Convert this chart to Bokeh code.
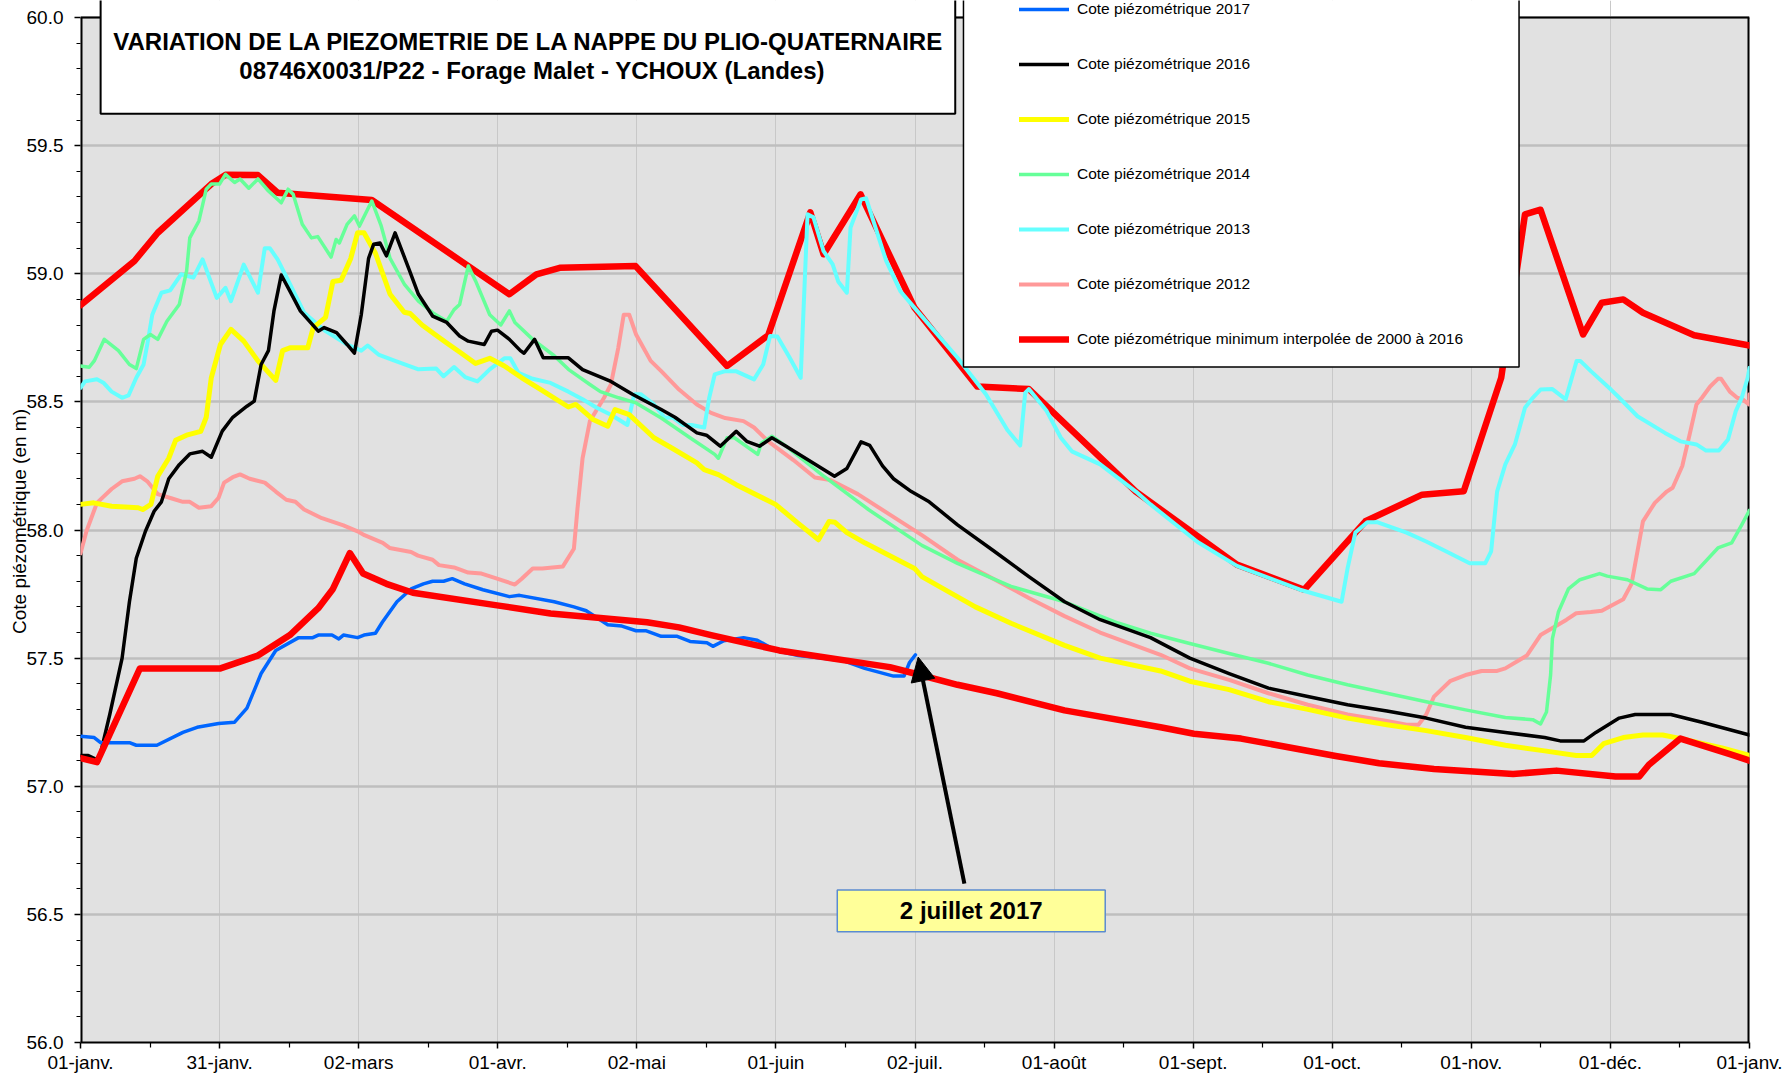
from bokeh.plotting import figure
from bokeh.models import (Range1d, FixedTicker, PrintfTickFormatter, Legend,
                          LegendItem, Arrow, NormalHead)
from bokeh.core.properties import value
from bokeh.embed import file_html
from bokeh.resources import INLINE

FONT = "Liberation Sans"

# ---------------- data (day of year, piezometric level in m) ----------------
month_labels = ["01-janv.", "31-janv.", "02-mars", "01-avr.", "02-mai", "01-juin",
                "02-juil.", "01-août", "01-sept.", "01-oct.", "01-nov.", "01-déc.", "01-janv."]
y_ticks = [56.0, 56.5, 57.0, 57.5, 58.0, 58.5, 59.0, 59.5, 60.0]

days_max = [0, 11.8, 16.9, 28.6, 31.7, 38.8, 43.1, 63.7, 93.8, 99.7, 104.8, 121.4, 141.4,
            150.4, 159.6, 162.5, 170.6, 182.4, 196.1, 207.4, 230.8, 252.9, 267.6, 281,
            293.4, 302.5, 310.7, 315.9, 319.3, 328.6, 332.7, 337.4, 341.7, 352.9, 365]
cote_max = [58.877, 59.05, 59.16, 59.35, 59.386, 59.385, 59.316, 59.288, 58.92, 58.998,
            59.023, 59.03, 58.64, 58.76, 59.24, 59.076, 59.31, 58.867, 58.56, 58.55, 58.15,
            57.865, 57.767, 58.034, 58.138, 58.151, 58.594, 59.232, 59.25, 58.763, 58.887,
            58.9, 58.848, 58.76, 58.72]

days_min = [0, 3.6, 13, 30.6, 38.8, 45.8, 52, 55.2, 58.9, 61.8, 66.9, 72.7, 91.1, 102.8,
            113.7, 123.9, 130.9, 137.9, 152.8, 177, 182.4, 191.8, 200.4, 215.2, 236.2,
            243.5, 253.8, 274.5, 284, 296, 313.3, 322.8, 335.7, 340.9, 343, 349.9, 360.7, 365]
cote_min = [57.11, 57.094, 57.46, 57.46, 57.51, 57.59, 57.695, 57.77, 57.91, 57.83, 57.79,
            57.755, 57.706, 57.674, 57.657, 57.64, 57.62, 57.59, 57.53, 57.465, 57.44,
            57.396, 57.363, 57.296, 57.23, 57.205, 57.186, 57.118, 57.09, 57.067, 57.048,
            57.061, 57.038, 57.038, 57.084, 57.186, 57.125, 57.1]

days_2017 = [0, 3, 4.4, 10.7, 12.2, 16.7, 22.4, 25.5, 30.2, 33.7, 36.4, 39.5, 42.7, 47.7,
             50.8, 52, 55, 56.5, 57.5, 60.6, 62, 64.5, 66, 69.2, 72.3, 75, 77, 79.4, 81.3,
             84, 88, 93.8, 96, 103.6, 107.9, 110.6, 115.3, 118.4, 121.5, 123.6, 127, 130.5,
             133.3, 137, 138.3, 140.7, 145, 148, 152, 157, 162, 166.8, 171.5, 177.8, 180.1,
             181.3, 182.6]
cote_2017 = [57.195, 57.19, 57.17, 57.17, 57.16, 57.16, 57.21, 57.23, 57.245, 57.25, 57.305,
             57.44, 57.53, 57.58, 57.58, 57.59, 57.59, 57.575, 57.59, 57.58, 57.59, 57.597,
             57.64, 57.72, 57.77, 57.79, 57.8, 57.8, 57.81, 57.79, 57.767, 57.74, 57.745,
             57.72, 57.70, 57.685, 57.63, 57.625, 57.607, 57.607, 57.585, 57.585, 57.565,
             57.56, 57.546, 57.568, 57.58, 57.57, 57.53, 57.51, 57.5, 57.49, 57.46, 57.43,
             57.43, 57.483, 57.513]

days_2016 = [0, 1.7, 4, 6.4, 9.1, 10.7, 12.2, 14.2, 16.1, 17.7, 19.3, 21.6, 23.9, 26.7, 28.6,
             31, 33.3, 36.4, 38, 39.5, 41.1, 42.3, 43.9, 45.8, 48.1, 52, 53.3, 56, 58.3, 59.9,
             61.4, 63, 64.1, 65.5, 66.9, 68.8, 72, 73.9, 77, 80.1, 82.9, 84.8, 88.3, 89.9,
             91.2, 93.8, 96.2, 97, 99.3, 101.2, 106.7, 109.8, 116, 120.7, 127, 130, 134.8,
             136.9, 139.9, 143.4, 145.7, 148.5, 151.2, 154.3, 164.9, 167.6, 170.7, 172.6,
             175.4, 177.8, 181.7, 185.6, 191.8, 199.6, 207.4, 215.2, 223, 234, 242.6, 251.2,
             259.8, 268.4, 277.1, 285.7, 294.3, 302.9, 311.6, 320.2, 323.6, 328.8, 331.4,
             336.5, 340, 347.8, 354.6, 365]
cote_2016 = [57.12, 57.12, 57.1, 57.28, 57.50, 57.72, 57.89, 57.995, 58.073, 58.11, 58.2,
             58.255, 58.297, 58.307, 58.284, 58.386, 58.44, 58.483, 58.503, 58.646, 58.7,
             58.854, 58.995, 58.932, 58.854, 58.776, 58.79, 58.77, 58.724, 58.69, 58.84, 59.06,
             59.115, 59.12, 59.07, 59.16, 59.01, 58.92, 58.835, 58.81, 58.757, 58.737, 58.724,
             58.776, 58.78, 58.744, 58.7, 58.69, 58.744, 58.672, 58.672, 58.626, 58.58, 58.53,
             58.47, 58.44, 58.379, 58.37, 58.327, 58.385, 58.346, 58.327, 58.36, 58.327, 58.21,
             58.24, 58.344, 58.33, 58.25, 58.2, 58.15, 58.11, 58.02, 57.92, 57.818, 57.72,
             57.65, 57.58, 57.5, 57.44, 57.383, 57.35, 57.318, 57.294, 57.266, 57.23, 57.21,
             57.19, 57.177, 57.177, 57.21, 57.266, 57.28, 57.28, 57.25, 57.2]

days_2015 = [0, 2.9, 6.8, 12.6, 13.6, 15.4, 16.9, 19.3, 20.8, 23.2, 26.3, 27.5, 28.6, 30.6,
             32.9, 35.7, 38.8, 42.7, 44.2, 45.8, 49.7, 50.9, 53.6, 55.2, 57, 59.1, 60.6, 62,
             64.5, 67.7, 70.8, 72.1, 74.7, 77, 80.1, 83.3, 86.4, 89.5, 92.7, 96.5, 100.5,
             106.7, 108.3, 112.2, 115.3, 116.9, 120, 125.4, 129.3, 134.8, 136.4, 139.5, 143.4,
             152, 156.7, 161.4, 163.7, 165, 167.6, 171.5, 182.4, 184, 195.7, 203.5, 215.2,
             223, 236.2, 242.6, 251.2, 259.8, 268.4, 277.1, 285.7, 294.3, 302.9, 311.6, 320.2,
             327.1, 330.5, 333.1, 337.4, 341.7, 346, 350, 359, 365]
cote_2015 = [58.1, 58.106, 58.093, 58.087, 58.08, 58.1, 58.21, 58.28, 58.35, 58.37, 58.385,
             58.44, 58.594, 58.724, 58.783, 58.737, 58.66, 58.584, 58.7, 58.711, 58.711, 58.79,
             58.83, 58.97, 58.975, 59.06, 59.16, 59.16, 59.08, 58.92, 58.85, 58.845, 58.8,
             58.77, 58.73, 58.69, 58.65, 58.67, 58.64, 58.594, 58.55, 58.48, 58.49, 58.43,
             58.405, 58.47, 58.45, 58.36, 58.32, 58.262, 58.236, 58.216, 58.177, 58.1, 58.03,
             57.962, 58.033, 58.03, 57.99, 57.95, 57.85, 57.818, 57.7, 57.636, 57.55, 57.5,
             57.45, 57.41, 57.377, 57.33, 57.3, 57.266, 57.24, 57.217, 57.19, 57.16, 57.138,
             57.12, 57.12, 57.166, 57.19, 57.2, 57.2, 57.186, 57.15, 57.12]

days_2014 = [0, 1.9, 3, 5.2, 8.3, 10.7, 12.2, 13.8, 15.3, 16.9, 18.9, 21.6, 23.2, 23.9, 25.9,
             27.5, 28.6, 30.4, 31.7, 33.7, 34.9, 36.8, 38.8, 41.1, 43.9, 45.4, 46.5, 48.5,
             50.5, 51.9, 54.8, 55.9, 56.6, 58.3, 59.9, 61, 63.7, 65.7, 67.7, 70.8, 73.9, 77,
             80.1, 81.7, 82.9, 84.8, 86.4, 89.5, 91.9, 93.8, 95, 98.9, 103.6, 106.7, 111.4,
             113.7, 117.7, 121.5, 127, 133.3, 138.7, 139.5, 141.4, 143, 148.1, 148.9, 151.2,
             154.3, 162.1, 172.3, 184, 191.8, 203.5, 215.2, 226.9, 234, 242.6, 251.2, 259.8,
             268.4, 277.1, 285.7, 294.3, 302.9, 311.6, 317.6, 319.3, 320.6, 321.5, 321.9,
             323.2, 325.4, 327.9, 332.2, 333.9, 338.3, 342.6, 345.6, 347.8, 352.9, 358.1,
             361.1, 363.3, 365]
cote_2014 = [58.64, 58.635, 58.66, 58.744, 58.70, 58.646, 58.63, 58.744, 58.763, 58.744,
             58.815, 58.88, 59.01, 59.14, 59.206, 59.33, 59.35, 59.35, 59.388, 59.356, 59.37,
             59.334, 59.37, 59.323, 59.277, 59.33, 59.31, 59.193, 59.14, 59.145, 59.065,
             59.134, 59.12, 59.193, 59.226, 59.186, 59.284, 59.19, 59.06, 58.96, 58.893,
             58.848, 58.815, 58.86, 58.88, 59.03, 58.972, 58.84, 58.8, 58.855, 58.81, 58.744,
             58.68, 58.627, 58.568, 58.54, 58.516, 58.496, 58.437, 58.36, 58.295, 58.28, 58.36,
             58.36, 58.295, 58.34, 58.366, 58.327, 58.216, 58.08, 57.94, 57.87, 57.78, 57.72,
             57.637, 57.597, 57.557, 57.518, 57.48, 57.434, 57.396, 57.363, 57.33, 57.298,
             57.268, 57.26, 57.243, 57.29, 57.434, 57.576, 57.68, 57.77, 57.806, 57.83, 57.82,
             57.806, 57.77, 57.767, 57.8, 57.83, 57.93, 57.95, 58.02, 58.077]

days_2013 = [0, 1, 3.6, 5, 6.8, 9.1, 10.5, 12.2, 13.8, 14.6, 15.7, 17.7, 19.6, 22, 24.7, 26.7,
             29.8, 31.7, 32.9, 35.7, 38.8, 40.3, 41.4, 43.1, 45.8, 48.9, 53.6, 58.3, 61.4,
             62.8, 65.3, 68.8, 73.9, 77.8, 79.4, 81.7, 84.1, 86.8, 89.5, 92.7, 94, 95.8, 98.9,
             102.8, 106.7, 109.8, 112.9, 116, 119.6, 121.1, 122.5, 125.4, 127.8, 129.4, 131.7,
             133.6, 136.4, 137.5, 138.7, 141, 143.3, 147.3, 149.3, 150.8, 152.4, 155.1, 157.5,
             159, 160.3, 162.5, 164.5, 165.7, 167.6, 168.4, 170.7, 171.8, 176.2, 179.3, 182.4,
             191.8, 198, 202.7, 205.5, 206.6, 207.4, 211.3, 214.4, 216.8, 223, 230.8, 234,
             244.3, 252.9, 266.7, 275.8, 277.1, 278.8, 281.4, 283.7, 290, 294.3, 298.6, 303.8,
             307.2, 308.5, 309.8, 311.6, 313.7, 315.9, 317.6, 319.3, 321.9, 324.8, 327.2, 328,
             330.3, 334.7, 336.3, 340.5, 346.5, 349.9, 353.4, 355.5, 358.3, 360.3, 362, 363.3,
             364.6, 365]
cote_2013 = [58.555, 58.58, 58.588, 58.575, 58.54, 58.516, 58.525, 58.594, 58.646, 58.724,
             58.84, 58.926, 58.935, 58.998, 58.985, 59.056, 58.906, 58.945, 58.893, 59.036,
             58.926, 59.1, 59.10, 59.056, 58.96, 58.848, 58.776, 58.724, 58.7, 58.72, 58.683,
             58.66, 58.627, 58.63, 58.6, 58.636, 58.597, 58.58, 58.627, 58.67, 58.67, 58.613,
             58.59, 58.574, 58.54, 58.51, 58.477, 58.45, 58.41, 58.53, 58.53, 58.49, 58.437,
             58.44, 58.41, 58.41, 58.4, 58.516, 58.607, 58.62, 58.62, 58.588, 58.646, 58.757,
             58.755, 58.672, 58.594, 59.232, 59.22, 59.088, 59.037, 58.97, 58.926, 59.18,
             59.29, 59.295, 59.05, 58.932, 58.867, 58.672, 58.53, 58.39, 58.33, 58.535, 58.55,
             58.464, 58.36, 58.307, 58.256, 58.15, 58.1, 57.953, 57.86, 57.767, 57.72, 57.85,
             57.99, 58.03, 58.03, 57.99, 57.955, 57.917, 57.87, 57.87, 57.917, 58.15, 58.256,
             58.334, 58.477, 58.516, 58.548, 58.55, 58.51, 58.66, 58.66, 58.62, 58.548, 58.52,
             58.444, 58.379, 58.346, 58.334, 58.31, 58.31, 58.353, 58.464, 58.516, 58.594,
             58.633]

days_2012 = [0, 1.3, 3.6, 6.8, 9.1, 11.8, 13, 14.6, 16.9, 20, 22.4, 23.9, 25.9, 28.6, 30.2,
             31.4, 33.3, 34.9, 37, 40.3, 42.7, 45, 47, 48.9, 52.8, 57.5, 60.6, 62.1, 66.1,
             67.6, 72.3, 73.8, 77, 78.4, 81.7, 84.8, 87.7, 91.1, 95, 96.5, 98.9, 101, 105.5,
             107.9, 108.7, 109.8, 111.4, 114.5, 116, 117.6, 118.8, 120, 121.5, 124.7, 127,
             130.9, 134.8, 137.9, 141, 145, 147.3, 150.4, 155.9, 160.6, 164, 170, 177, 184,
             191.8, 199.6, 207.4, 215.2, 223, 236.2, 242.6, 251.2, 259.8, 268.4, 277.1, 285.7,
             290, 292.6, 294.3, 296, 299.5, 302.9, 306.4, 309.8, 311.6, 316.3, 319.3, 325,
             327.1, 330.3, 332.7, 337.4, 339.2, 341.7, 344.3, 346.9, 348.2, 350.3, 352,
             353.4, 354.6, 356.4, 358.1, 358.8, 360.7, 362.3, 363.5, 364.9, 365]
cote_2012 = [57.908, 57.995, 58.106, 58.16, 58.19, 58.2, 58.21, 58.19, 58.14, 58.123, 58.11,
             58.11, 58.087, 58.093, 58.126, 58.185, 58.206, 58.217, 58.2, 58.185, 58.15,
             58.118, 58.11, 58.08, 58.046, 58.018, 57.995, 57.98, 57.95, 57.93, 57.914, 57.9,
             57.884, 57.863, 57.854, 57.834, 57.83, 57.81, 57.787, 57.81, 57.85, 57.85, 57.858,
             57.927, 58.086, 58.28, 58.425, 58.516, 58.568, 58.71, 58.84, 58.84, 58.763, 58.66,
             58.62, 58.548, 58.49, 58.457, 58.437, 58.425, 58.4, 58.346, 58.273, 58.205,
             58.195, 58.14, 58.06, 57.98, 57.884, 57.81, 57.735, 57.664, 57.6, 57.513, 57.46,
             57.415, 57.363, 57.318, 57.28, 57.255, 57.24, 57.24, 57.28, 57.35, 57.41, 57.434,
             57.45, 57.45, 57.46, 57.51, 57.59, 57.65, 57.675, 57.68, 57.685, 57.73, 57.79,
             58.034, 58.106, 58.15, 58.165, 58.25, 58.38, 58.49, 58.516, 58.56, 58.59, 58.59,
             58.54, 58.516, 58.51, 58.49, 58.53]

# ---------------- figure ----------------
Y_TOP = 60 + 17 / 256.0   # frame reaches the top of the page, 60.0 sits 17 px below
p = figure(width=1787, height=1075, x_range=Range1d(0, 365), y_range=Range1d(56, Y_TOP),
           output_backend="svg", toolbar_location=None,
           min_border_left=80, min_border_right=38, min_border_top=0, min_border_bottom=33)
p.background_fill_color = "white"
p.border_fill_color = "white"
p.outline_line_color = None

# grey plot area (only up to 60.0)
p.quad(left=[0], right=[365], bottom=[56], top=[60], fill_color="#E1E1E1", line_color=None,
       level="underlay")

x_ticks = [round(i * 365 / 12, 4) for i in range(13)]
x_minor = [round((i + 0.5) * 365 / 12, 4) for i in range(12)]
xt = FixedTicker(ticks=x_ticks, minor_ticks=x_minor)
p.xaxis.ticker = xt
p.xgrid.ticker = xt
p.xaxis.major_label_overrides = {t: lab for t, lab in zip(x_ticks, month_labels)}

y_minor = [round(56 + i * 0.1, 1) for i in range(41) if i % 5 != 0]
yt = FixedTicker(ticks=y_ticks, minor_ticks=y_minor)
p.yaxis.ticker = yt
p.ygrid.ticker = yt
p.yaxis.formatter = PrintfTickFormatter(format="%.1f")

for ax in (p.xaxis[0], p.yaxis[0]):
    ax.axis_line_width = 2
    ax.axis_line_color = "black"
    ax.major_tick_line_color = "black"
    ax.major_tick_line_width = 1.5
    ax.minor_tick_line_color = "black"
    ax.minor_tick_line_width = 1.2
    ax.major_tick_in = 0
    ax.minor_tick_in = 0
    ax.major_label_text_font = FONT
    ax.major_label_text_font_size = "19px"
    ax.major_label_text_color = "black"
p.yaxis.axis_line_color = None
p.xaxis.major_tick_out = 6
p.xaxis.minor_tick_out = 5
p.xaxis.major_label_standoff = 3
p.yaxis.major_tick_out = 6
p.yaxis.minor_tick_out = 4
p.yaxis.major_label_standoff = 11
p.yaxis.axis_label = "Cote piézométrique (en m)"
p.yaxis.axis_label_text_font = FONT
p.yaxis.axis_label_text_font_size = "19px"
p.yaxis.axis_label_text_font_style = "normal"
p.yaxis.axis_label_text_color = "black"
p.yaxis.axis_label_standoff = -6

p.xgrid.grid_line_color = "#C8C8C8"
p.xgrid.grid_line_width = 1
p.ygrid.grid_line_color = "#BEBEBE"
p.ygrid.grid_line_width = 2.5

# frame borders (left, top, right)
p.segment(x0=[0, 0, 365], y0=[56, 60, 56], x1=[0, 365, 365], y1=[60, 60, 60],
          line_color="black", line_width=[4, 2, 4])

# ---------------- series ----------------
kw = dict(line_join="round", line_cap="round")
r_max = p.line(days_max, cote_max, line_color="#FF0000", line_width=6.5, **kw)
r12 = p.line(days_2012, cote_2012, line_color="#FF9999", line_width=4, **kw)
r13 = p.line(days_2013, cote_2013, line_color="#66FFFF", line_width=4, **kw)
r14 = p.line(days_2014, cote_2014, line_color="#66FF99", line_width=3.5, **kw)
r15 = p.line(days_2015, cote_2015, line_color="#FFFF00", line_width=5, **kw)
r16 = p.line(days_2016, cote_2016, line_color="#000000", line_width=3.5, **kw)
r17 = p.line(days_2017, cote_2017, line_color="#0066FF", line_width=3.5, **kw)
r_min = p.line(days_min, cote_min, line_color="#FF0000", line_width=6.5, **kw)

# ---------------- boxes and texts ----------------
p.quad(left=[4.4], right=[191.3], bottom=[59.624], top=[60.5],
       fill_color="white", line_color="black", line_width=2)
p.quad(left=[193.1], right=[314.6], bottom=[58.636], top=[60.5],
       fill_color="white", line_color="black", line_width=1.5)
p.quad(left=[165.5], right=[224.1], bottom=[56.432], top=[56.595],
       fill_color="#FFFF99", line_color="#5B8BD0", line_width=1.5)

p.text(x=[98.0], y=[59.905], text=["VARIATION DE LA PIEZOMETRIE DE LA NAPPE DU PLIO-QUATERNAIRE"],
       text_font=value(FONT), text_font_style="bold", text_font_size="24px",
       text_align="center", text_baseline="middle", text_color="black")
p.text(x=[99.5], y=[59.794], text=["08746X0031/P22  - Forage Malet - YCHOUX (Landes)"],
       text_font=value(FONT), text_font_style="bold", text_font_size="24px",
       text_align="center", text_baseline="middle", text_color="black")
p.text(x=[194.8], y=[56.514], text=["2 juillet 2017"],
       text_font=value(FONT), text_font_style="bold", text_font_size="24px",
       text_align="center", text_baseline="middle", text_color="black")

p.add_layout(Arrow(end=NormalHead(size=24, fill_color="black", line_color="black", line_width=1),
                   x_start=193.3, y_start=56.62, x_end=183.2, y_end=57.504,
                   line_color="black", line_width=4))

legend = Legend(items=[
    LegendItem(label="Cote piézométrique 2017", renderers=[r17]),
    LegendItem(label="Cote piézométrique 2016", renderers=[r16]),
    LegendItem(label="Cote piézométrique 2015", renderers=[r15]),
    LegendItem(label="Cote piézométrique 2014", renderers=[r14]),
    LegendItem(label="Cote piézométrique 2013", renderers=[r13]),
    LegendItem(label="Cote piézométrique 2012", renderers=[r12]),
    LegendItem(label="Cote piézométrique minimum interpolée de 2000 à 2016", renderers=[r_min]),
], location=(939, 693), padding=0, margin=0, spacing=35, glyph_width=50, glyph_height=20,
    label_height=20, label_standoff=8, label_text_font=FONT, label_text_font_size="15.5px",
    label_text_color="black", border_line_color=None, background_fill_alpha=0)
p.add_layout(legend)

open("out.html", "w").write(file_html(p, INLINE))
